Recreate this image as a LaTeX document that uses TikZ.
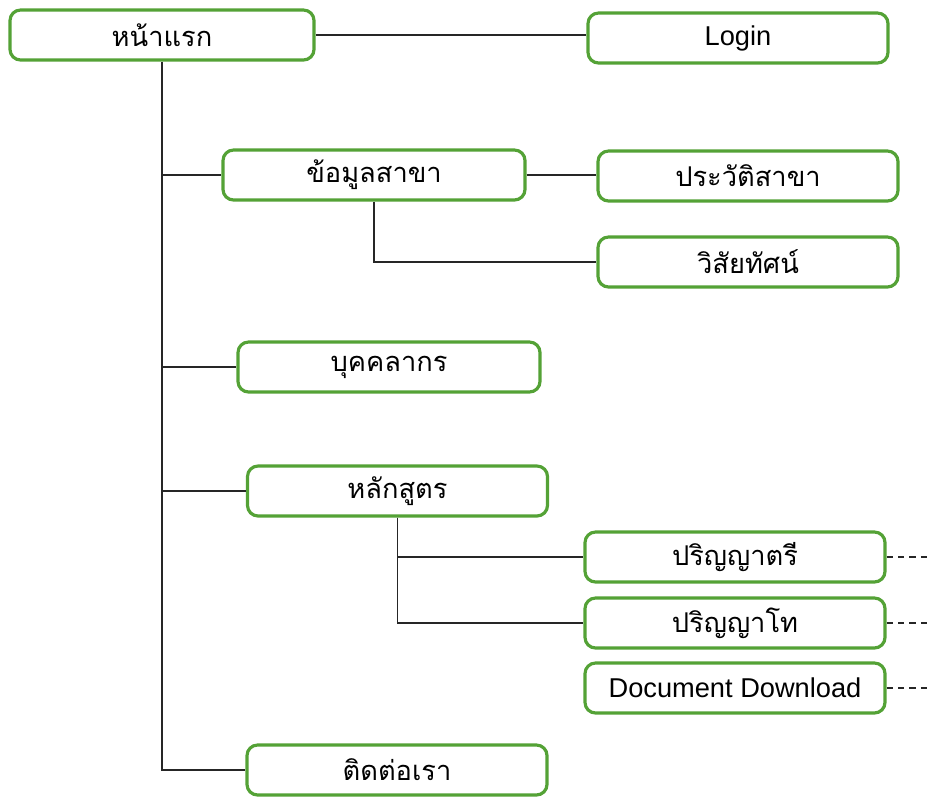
\documentclass[tikz,border=0pt]{standalone}
\usepackage{fontspec}
\setmainfont{Liberation Sans}
\newfontfamily\thaifont[Script=Thai]{Loma}
\definecolor{boxgreen}{RGB}{84,162,54}
\usetikzlibrary{calc}

\begin{document}
\begin{tikzpicture}[page/.style={draw=boxgreen, line width=1.8pt, rounded corners=6pt, fill=white, minimum width=6cm, minimum height=1cm, font=\fontsize{15.5}{18}\selectfont\thaifont}, link/.style={draw=black!85, line width=0.8pt}]
		\useasboundingbox (0,0) rectangle (18.56,-15.92);
		\node[page, minimum width=6.08cm] (Home) at (3.24,-0.70) {หน้าแรก};
		\node[page, font=\fontsize{15.5}{18}\selectfont] (Login) at (14.76,-0.76) {Login};
		\node[page, minimum width=6.04cm] (Info) at (7.48,-3.50) {ข้อมูลสาขา};
		\node[page] (History) at (14.96,-3.52) {ประวัติสาขา};
		\node[page] (Vision) at (14.96,-5.24) {วิสัยทัศน์};
		\node[page, minimum width=6.04cm] (Staff) at (7.78,-7.34) {บุคคลากร};
		\node[page] (Course) at (7.95,-9.82) {หลักสูตร};
		\node[page] (Bachelor) at (14.70,-11.14) {ปริญญาตรี};
		\node[page] (Master) at (14.70,-12.46) {ปริญญาโท};
		\node[page, font=\fontsize{15.5}{18}\selectfont] (Download) at (14.70,-13.76) {Document Download};
		\node[page] (Contact) at (7.94,-15.40) {ติดต่อเรา};
		\coordinate (Edge) at (18.56,0);
		% Lines
		\draw[link] (Home.east) -- (Home.east -| Login.west);
		\draw[link] (Home.south) -- (Home.south |- Contact.west) -- (Contact.west);
		\draw[link] (Home.south |- Info.west) -- (Info.west);
		\draw[link] (Home.south |- Staff.west) -- (Staff.west);
		\draw[link] (Home.south |- Course.west) -- (Course.west);
		\draw[link] (Info.east) -- (Info.east -| History.west);
		\draw[link] (Info.south) |- (Vision.west);
		\draw[link] (Course.south) |- (Bachelor.west);
		\draw[link] (Course.south) |- (Master.west);
		% Dashed ends
		\draw[link, line width=0.6pt, dash pattern=on 3.5pt off 3pt] (Bachelor.east) -- (Bachelor.east -| Edge);
		\draw[link, line width=0.6pt, dash pattern=on 3.5pt off 3pt] (Master.east) -- (Master.east -| Edge);
		\draw[link, line width=0.6pt, dash pattern=on 3.5pt off 3pt] (Download.east) -- (Download.east -| Edge);
	\end{tikzpicture}
\end{document}
